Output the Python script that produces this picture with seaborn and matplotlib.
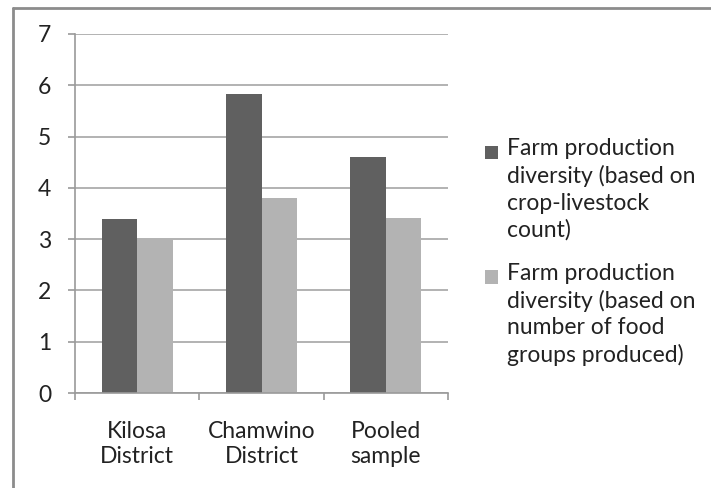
import matplotlib
matplotlib.use("Agg")
import matplotlib.pyplot as plt
import seaborn as sns
import pandas as pd
from matplotlib.patches import Patch
from matplotlib.lines import Line2D

categories = ["Kilosa\nDistrict", "Chamwino\nDistrict", "Pooled\nsample"]
series_names = [
    "Farm production\ndiversity (based on\ncrop-livestock\ncount)",
    "Farm production\ndiversity (based on\nnumber of food\ngroups produced)",
]
crop_livestock = [3.4, 5.83, 4.61]
food_groups = [3.0, 3.81, 3.41]
colors = ["#606060", "#b3b3b3"]

df = pd.DataFrame({
    "category": categories * 2,
    "series": [series_names[0]] * 3 + [series_names[1]] * 3,
    "value": crop_livestock + food_groups,
})

sns.set_style("white")
plt.rcParams["font.family"] = ["Lato", "DejaVu Sans"]
FS = 16.5
TXT = "#222222"

fig = plt.figure(figsize=(7.11, 4.88), dpi=100)
ax = fig.add_axes([75 / 711, 1 - 393 / 488, (448 - 75) / 711, (393 - 34) / 488])

sns.barplot(data=df, x="category", y="value", hue="series", palette=colors,
            width=0.57, gap=0, saturation=1, ax=ax, legend=False, errorbar=None)

for p in ax.patches:
    p.set_edgecolor("none")

ax.set_ylim(0, 7)
ax.set_xlim(-0.5, 2.5)
ax.set_yticks(range(0, 8))
ax.set_xlabel("")
ax.set_ylabel("")
ax.yaxis.grid(True, color="#a6a6a6", linewidth=1.2)
ax.set_axisbelow(True)
for s in ["top", "right"]:
    ax.spines[s].set_visible(False)
for s in ["left", "bottom"]:
    ax.spines[s].set_visible(True)
    ax.spines[s].set_color("#9a9a9a")
    ax.spines[s].set_linewidth(1.2)

ax.tick_params(axis="y", which="major", length=5, width=1.2, color="#9a9a9a",
               pad=12, labelsize=FS, labelcolor=TXT, left=True)
ax.tick_params(axis="x", which="major", length=0, pad=20, labelsize=FS,
               labelcolor=TXT)
ax.set_xticks([-0.5, 0.5, 1.5, 2.5], minor=True)
ax.tick_params(axis="x", which="minor", length=5, width=1.2, color="#9a9a9a",
               bottom=True)
for t in ax.get_xticklabels():
    t.set_linespacing(1.25)

handles = [Patch(facecolor=c, edgecolor="none") for c in colors]
leg = fig.legend(handles, series_names, loc="upper left",
                 bbox_to_anchor=(474 / 711, 1 - 127 / 488), frameon=False,
                 fontsize=FS, handlelength=0.55, handleheight=0.55,
                 handletextpad=0.4, labelspacing=0.95, borderpad=0)
for t in leg.get_texts():
    t.set_linespacing(1.32)
    t.set_color(TXT)

# align each legend swatch with the first line of its (multi-line) label
fig.canvas.draw()
for patch, text in zip(leg.legend_handles, leg.get_texts()):
    tb = text.get_window_extent()
    nlines = text.get_text().count("\n") + 1
    line_h = tb.height / nlines
    target = tb.y1 - line_h * 0.55
    pb = patch.get_window_extent()
    shift_px = target - (pb.y0 + pb.y1) / 2
    patch.set_y(patch.get_y() + shift_px * 72 / fig.dpi)

# outer border (only top and left visible in the reference)
border_color = "#8c8c8c"
fig.add_artist(Line2D([13 / 711, 13 / 711], [0, 1 - 8 / 488],
                      transform=fig.transFigure, color=border_color, lw=2))
fig.add_artist(Line2D([13 / 711, 1], [1 - 8 / 488, 1 - 8 / 488],
                      transform=fig.transFigure, color=border_color, lw=2))

fig.savefig("out.png", dpi=100)
